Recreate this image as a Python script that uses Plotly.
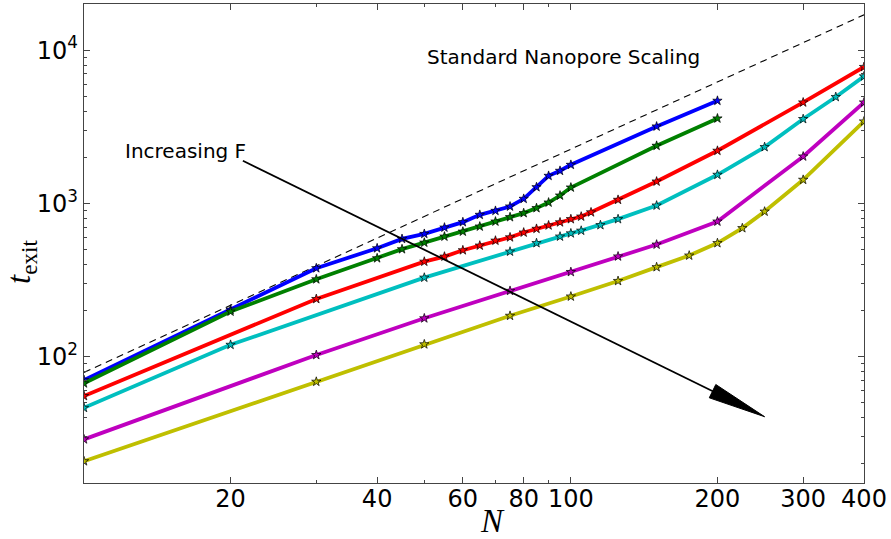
import numpy as np
import plotly.graph_objects as go

# Exit time t_exit against chain length N, one series per driving force F (weakest first)
n_blue = [10, 20, 30, 40, 45, 50, 55, 60, 65, 70, 75, 80, 85, 90, 95, 100, 150, 200]
t_blue = [70.4, 203, 378, 510, 587, 633, 696, 755, 843, 895, 955, 1072, 1277, 1514, 1633, 1786, 3178, 4677]

n_green = [10, 20, 30, 40, 45, 50, 55, 60, 65, 70, 75, 80, 85, 90, 95, 100, 150, 200]
t_green = [67.0, 197, 320, 439, 503, 555, 608, 655, 707, 762, 814, 865, 932, 1014, 1126, 1270, 2378, 3585]

n_red = [10, 30, 50, 55, 60, 65, 70, 75, 80, 85, 90, 95, 100, 105, 110, 125, 150, 200, 300, 400]
t_red = [55.4, 238, 417, 450, 495, 531, 572, 601, 646, 683, 719, 753, 790, 821, 875, 1056, 1390, 2207, 4560, 7770]

n_cyan = [10, 20, 50, 75, 85, 95, 100, 105, 115, 125, 150, 200, 250, 300, 350, 400]
t_cyan = [46.4, 119.6, 328, 485, 551, 608, 638, 664, 722, 790, 969, 1538, 2332, 3553, 4947, 6745]

n_magenta = [10, 30, 50, 75, 100, 125, 150, 200, 300, 400]
t_magenta = [28.9, 102.6, 178, 269, 357, 451, 539, 762, 2025, 4560]

n_yellow = [10, 30, 50, 75, 100, 125, 150, 175, 200, 225, 250, 300, 400]
t_yellow = [20.8, 68.7, 120.5, 185, 247, 312, 384, 457, 551, 690, 885, 1427, 3428]

# Standard nanopore power-law reference
n_scaling = [10, 400]
t_scaling = [79, 17000]

# "Increasing F" arrow, from tail to tip in (N, t)
arrow_n = [21.2, 250]
arrow_t = [1900, 40.6]

x_tickvals = [20, 40, 60, 80, 100, 200, 300, 400]
x_ticktext = ["20", "40", "60", "80", "100", "200", "300", "400"]
x_minor = [30, 50, 70, 90]
y_tickvals = [100, 1000, 10000]
y_ticktext = ["10<sup>2</sup>", "10<sup>3</sup>", "10<sup>4</sup>"]
y_minor = [m * d for d in (10, 100, 1000, 10000) for m in range(2, 10) if m * d < 20000]

series = [
    (n_blue, t_blue, "#0000ff"),
    (n_green, t_green, "#008000"),
    (n_red, t_red, "#ff0000"),
    (n_cyan, t_cyan, "#00bfbf"),
    (n_magenta, t_magenta, "#bf00bf"),
    (n_yellow, t_yellow, "#bfbf00"),
]

W, H = 891, 539
MARGIN = dict(l=84, r=27, t=4, b=56)
PW = W - MARGIN["l"] - MARGIN["r"]
PH = H - MARGIN["t"] - MARGIN["b"]
X_RANGE = [1.0, float(np.log10(400))]
Y_RANGE = [float(np.log10(15)), float(np.log10(20000))]

fig = go.Figure()

fig.add_trace(go.Scatter(
    x=n_scaling, y=t_scaling, mode="lines",
    line=dict(color="black", width=1.1, dash="7px,5px"),
    showlegend=False, hoverinfo="skip",
))

for n, t, col in series:
    fig.add_trace(go.Scatter(
        x=n, y=t, mode="lines+markers",
        line=dict(color=col, width=3.8),
        marker=dict(symbol="star", size=7, color=col, line=dict(color="black", width=0.7)),
        showlegend=False,
    ))


def to_px(n, t):
    """Pixel offset of a data point from the bottom-left corner of the plot area."""
    fx = (np.log10(n) - X_RANGE[0]) / (X_RANGE[1] - X_RANGE[0])
    fy = (np.log10(t) - Y_RANGE[0]) / (Y_RANGE[1] - Y_RANGE[0])
    return np.array([fx * PW, fy * PH])


def to_paper(p):
    return p[0] / PW, p[1] / PH


tail = to_px(arrow_n[0], arrow_t[0])
tip = to_px(arrow_n[1], arrow_t[1])
u = (tip - tail) / np.linalg.norm(tip - tail)
perp = np.array([-u[1], u[0]])
head_len, head_half = 58.0, 7.4
base = tip - head_len * u
c1 = base + head_half * perp
c2 = base - head_half * perp

x0, y0 = to_paper(tail)
x1, y1 = to_paper(base + 2 * u)
fig.add_shape(type="line", xref="paper", yref="paper", x0=x0, y0=y0, x1=x1, y1=y1,
              line=dict(color="black", width=1.8))
pts = [to_paper(p) for p in (tip, c1, c2)]
path = "M {:.5f},{:.5f} L {:.5f},{:.5f} L {:.5f},{:.5f} Z".format(*pts[0], *pts[1], *pts[2])
fig.add_shape(type="path", xref="paper", yref="paper", path=path,
              fillcolor="black", line=dict(color="black", width=1))

fig.add_annotation(text="Standard Nanopore Scaling", xref="paper", yref="paper",
                   x=(425 - MARGIN["l"]) / PW, y=(H - MARGIN["b"] - 56.7) / PH,
                   xanchor="left", yanchor="middle", showarrow=False,
                   font=dict(family="DejaVu Sans", size=20, color="black"))
fig.add_annotation(text="Increasing F", xref="paper", yref="paper",
                   x=(123 - MARGIN["l"]) / PW, y=(H - MARGIN["b"] - 151) / PH,
                   xanchor="left", yanchor="middle", showarrow=False,
                   font=dict(family="DejaVu Sans", size=20, color="black"))

# Axis labels
fig.add_annotation(text="<i>N</i>", xref="paper", yref="paper",
                   x=(492 - MARGIN["l"]) / PW, y=(H - MARGIN["b"] - 521) / PH,
                   xanchor="center", yanchor="middle", showarrow=False,
                   font=dict(family="Liberation Serif", size=33, color="black"))
fig.add_annotation(text="<i>t</i><sub>exit</sub>", xref="paper", yref="paper",
                   x=(21 - MARGIN["l"]) / PW, y=(H - MARGIN["b"] - 262) / PH,
                   xanchor="center", yanchor="middle", showarrow=False, textangle=-90,
                   font=dict(family="Liberation Serif", size=33, color="black"))

axis_common = dict(
    showgrid=False, zeroline=False, showline=True, linecolor="#444", linewidth=1.4,
    mirror="ticks", ticks="inside", tickcolor="#444", tickwidth=1.1, ticklen=6,
    tickfont=dict(family="DejaVu Sans", size=24, color="black"),
)

fig.update_xaxes(type="log", range=X_RANGE, tickmode="array",
                 tickvals=x_tickvals, ticktext=x_ticktext, ticklabelstandoff=-6,
                 minor=dict(ticks="inside", tickvals=x_minor, ticklen=3, tickcolor="#444", tickwidth=1),
                 **axis_common)
fig.update_yaxes(type="log", range=Y_RANGE, tickmode="array",
                 tickvals=y_tickvals, ticktext=y_ticktext,
                 minor=dict(ticks="inside", tickvals=y_minor, ticklen=3, tickcolor="#444", tickwidth=1),
                 **axis_common)

fig.update_layout(
    width=W, height=H, margin=MARGIN,
    paper_bgcolor="white", plot_bgcolor="white",
    font=dict(family="DejaVu Sans", color="black"),
)

fig.write_html("out.html")
